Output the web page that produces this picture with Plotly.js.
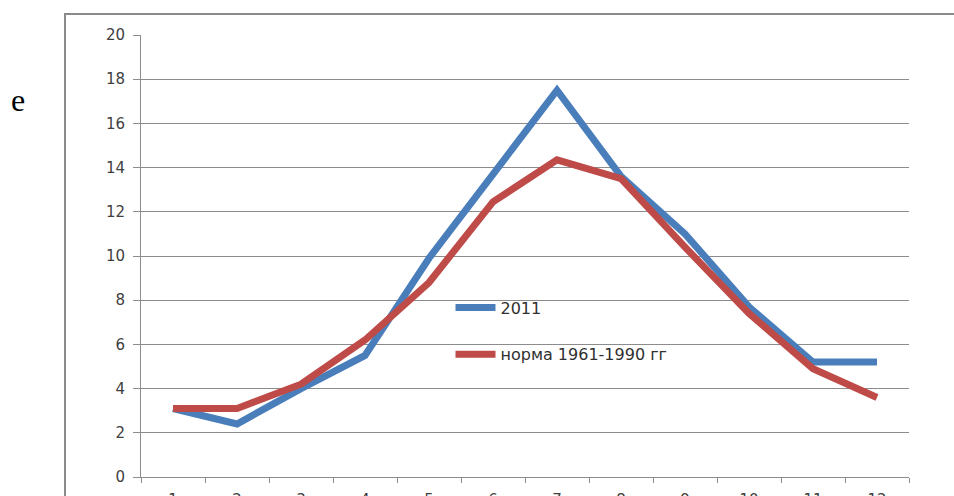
<!DOCTYPE html>
<html>
<head>
<meta charset="utf-8">
<script src="https://cdn.plot.ly/plotly-3.0.1.min.js"></script>
<style>
  html, body { margin: 0; padding: 0; background: #ffffff; overflow: hidden; }
  #chart { width: 954px; height: 496px; }
</style>
</head>
<body>
<div id="chart"></div>
<script>
const months = ["1", "2", "3", "4", "5", "6", "7", "8", "9", "10", "11", "12"];
const temp2011 = [3.1, 2.4, 4.0, 5.5, 9.9, 13.7, 17.5, 13.6, 11.0, 7.7, 5.2, 5.2];
const tempNorm = [3.1, 3.1, 4.2, 6.2, 8.8, 12.45, 14.35, 13.5, 10.4, 7.4, 4.9, 3.6];
const seriesNames = ["2011", "норма 1961-1990 гг"];

const GRID = "#8c8c8c";
const FONT = "DejaVu Sans, Liberation Sans, sans-serif";

const traces = [
  {
    x: months,
    y: temp2011,
    type: "scatter",
    mode: "lines",
    name: seriesNames[0],
    legendgroup: "a",
    line: { color: "#4a7ebb", width: 7 },
  },
  {
    x: months,
    y: tempNorm,
    type: "scatter",
    mode: "lines",
    name: seriesNames[1],
    legendgroup: "b",
    line: { color: "#be4b48", width: 7 },
  },
];

const layout = {
  width: 954,
  height: 496,
  margin: { l: 141, r: 45, t: 35, b: 19 },
  paper_bgcolor: "#ffffff",
  plot_bgcolor: "#ffffff",
  font: { family: FONT, size: 15, color: "#404040" },
  showlegend: true,
  legend: {
    x: 0.403,
    y: 0.422,
    xanchor: "left",
    yanchor: "top",
    bgcolor: "rgba(0,0,0,0)",
    traceorder: "grouped",
    tracegroupgap: 23,
    itemwidth: 40,
    font: { family: FONT, size: 16, color: "#303030" },
  },
  xaxis: {
    type: "category",
    range: [-0.5, 11.5],
    showgrid: false,
    showline: true,
    linecolor: GRID,
    linewidth: 1,
    ticks: "outside",
    tickson: "boundaries",
    ticklen: 5,
    tickcolor: GRID,
    ticklabelstandoff: 9,
    automargin: false,
    zeroline: false,
  },
  yaxis: {
    range: [0, 20],
    dtick: 2,
    showgrid: true,
    gridcolor: GRID,
    gridwidth: 1,
    showline: true,
    linecolor: GRID,
    ticks: "outside",
    ticklen: 7,
    tickcolor: GRID,
    ticklabelstandoff: 5,
    automargin: false,
    zeroline: false,
  },
  shapes: [
    {
      type: "rect",
      xref: "paper",
      yref: "paper",
      x0: (65 - 141) / 768,
      x1: 1.1,
      y0: -0.2,
      y1: (477 - 14) / 442,
      line: { color: "#8a8a8a", width: 2 },
      layer: "below",
    },
  ],
  annotations: [
    {
      text: "e",
      xref: "paper",
      yref: "paper",
      x: (18 - 141) / 768,
      y: (477 - 100) / 442,
      xanchor: "center",
      yanchor: "middle",
      showarrow: false,
      font: { family: "Liberation Serif, serif", size: 32, color: "#000000" },
    },
  ],
};

Plotly.newPlot("chart", traces, layout, { displayModeBar: false, staticPlot: true });
</script>
</body>
</html>
